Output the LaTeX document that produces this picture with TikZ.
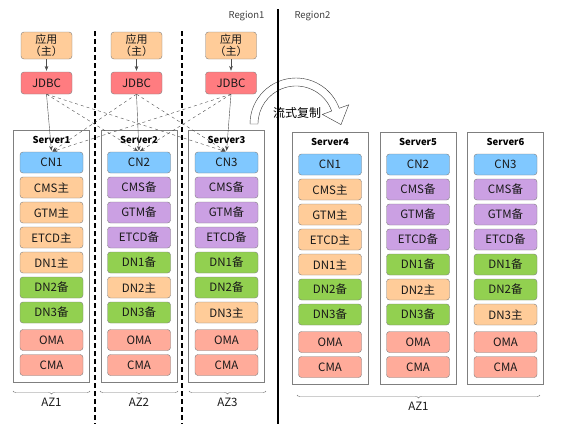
\documentclass[tikz,border=0pt]{standalone}
\usepackage{fontspec}
\setmainfont{Noto Sans CJK SC}
\usetikzlibrary{arrows.meta,decorations.pathreplacing,positioning}
\definecolor{mainpeach}{HTML}{FFCC99}
\definecolor{jdbcred}{HTML}{FF7C80}
\definecolor{cnblue}{HTML}{80C8FF}
\definecolor{standbypurple}{HTML}{CBA0E3}
\definecolor{dngreen}{HTML}{92D050}
\definecolor{agentsalmon}{HTML}{FFAB9A}
\definecolor{edgegray}{HTML}{7F7F7F}

\begin{document}
\begin{tikzpicture}[
  x=1pt,y=1pt,
  >=Stealth,
  every node/.style={font=\fontsize{11.5}{13}\selectfont,text=black!90},
  unit/.style={draw=edgegray,rounded corners=3pt,minimum width=63pt,minimum height=21pt,inner sep=0pt},
  cn/.style={unit,fill=cnblue},
  zhu/.style={unit,fill=mainpeach},
  bei/.style={unit,fill=standbypurple},
  dn/.style={unit,fill=dngreen},
  agent/.style={unit,fill=agentsalmon},
  server/.style={draw=edgegray,fill=white,minimum width=76pt,minimum height=252pt,inner sep=0pt},
  srvname/.style={font=\bfseries\fontsize{9.5}{11}\selectfont,text=black},
  app/.style={draw=edgegray,rounded corners=3pt,fill=mainpeach,minimum width=51pt,minimum height=27pt,
    inner sep=0pt,align=center,font=\fontsize{11}{11.5}\selectfont},
  jdbc/.style={draw=edgegray,rounded corners=3pt,fill=jdbcred,minimum width=51pt,minimum height=22pt,inner sep=0pt},
  link/.style={->,draw=black!70,thin,shorten >=1pt},
  cross/.style={link,dashed},
  azbrace/.style={draw=black!55,decorate,decoration={brace,mirror,amplitude=3pt}},
  region/.style={font=\fontsize{9.5}{11}\selectfont,text=black!75}
]
  \useasboundingbox (0,0) rectangle (568,-424);

  % AZ borders inside Region1
  \draw[line width=1.2pt,dash pattern=on 5pt off 3pt] (95,-31) -- (95,-424);
  \draw[line width=1.2pt,dash pattern=on 5pt off 3pt] (182,-31) -- (182,-424);

  % applications and drivers
  \foreach \i/\x in {1/46.5,2/136.5,3/231}{
    \node[app] (app\i) at (\x,-45.5) {应用\\（主）};
    \node[jdbc] (jdbc\i) at (\x,-83) {JDBC};
    \draw[link] (app\i) -- (jdbc\i);
  }

  % servers
  \foreach \s/\x/\top/\roles in {
    1/51.5/130/{cn/CN1,zhu/CMS主,zhu/GTM主,zhu/ETCD主,zhu/DN1主,dn/DN2备,dn/DN3备,agent/OMA,agent/CMA},
    2/139/130/{cn/CN2,bei/CMS备,bei/GTM备,bei/ETCD备,dn/DN1备,zhu/DN2主,dn/DN3备,agent/OMA,agent/CMA},
    3/226.5/130/{cn/CN3,bei/CMS备,bei/GTM备,bei/ETCD备,dn/DN1备,dn/DN2备,zhu/DN3主,agent/OMA,agent/CMA},
    4/330/132/{cn/CN1,zhu/CMS主,zhu/GTM主,zhu/ETCD主,zhu/DN1主,dn/DN2备,dn/DN3备,agent/OMA,agent/CMA},
    5/418/132/{cn/CN2,bei/CMS备,bei/GTM备,bei/ETCD备,dn/DN1备,zhu/DN2主,dn/DN3备,agent/OMA,agent/CMA},
    6/505.5/132/{cn/CN3,bei/CMS备,bei/GTM备,bei/ETCD备,dn/DN1备,dn/DN2备,zhu/DN3主,agent/OMA,agent/CMA}}{
    \pgfmathsetmacro\cy{-\top-126}
    \node[server] (srv\s) at (\x,\cy) {};
    \node[srvname] (srv\s name) at (\x,-\top-10) {Server\s};
    \foreach \st/\tx [count=\k] in \roles{
      \pgfmathsetmacro\yy{-\top-32.5-25*(\k-1)-2.5*(\k>7)}
      \node[\st] (s\s u\k) at (\x,\yy) {\tx};
    }
  }

  % JDBC to CN
  \foreach \i in {1,2,3}
    \draw[link] (jdbc\i.south) -- (s\i u1.north);
  \foreach \i/\j in {1/2,1/3,2/1,2/3,3/1,3/2}
    \draw[cross] (jdbc\i.south) -- (s\j u1.north);

  % replication arrow
  \draw[black!80,fill=white] (250,-124) arc[start angle=180,end angle=20,radius=46]
    -- (348.7,-104.8) -- (341,-124.6) -- (322.3,-114.4) -- (331.7,-111)
    arc[start angle=20,end angle=180,radius=38] -- cycle;
  \node[font=\fontsize{12}{14}\selectfont,text=black] (repl) at (297,-113) {流式复制};

  % region border
  \draw[line width=1.2pt] (278,-9) -- (278,-424);
  \node[region,anchor=east] (reg1) at (268,-16) {Region1};
  \node[region,anchor=west] (reg2) at (291,-16) {Region2};

  % AZ braces
  \draw[azbrace] (13,-391) -- node[below=4pt] (az1) {AZ1} (90,-391);
  \draw[azbrace] (100,-391) -- node[below=4pt] (az2) {AZ2} (178,-391);
  \draw[azbrace] (189,-391) -- node[below=4pt] (az3) {AZ3} (266,-391);
  \draw[azbrace] (297,-395) -- node[below=4pt] (az4) {AZ1} (540,-395);
\end{tikzpicture}
\end{document}
